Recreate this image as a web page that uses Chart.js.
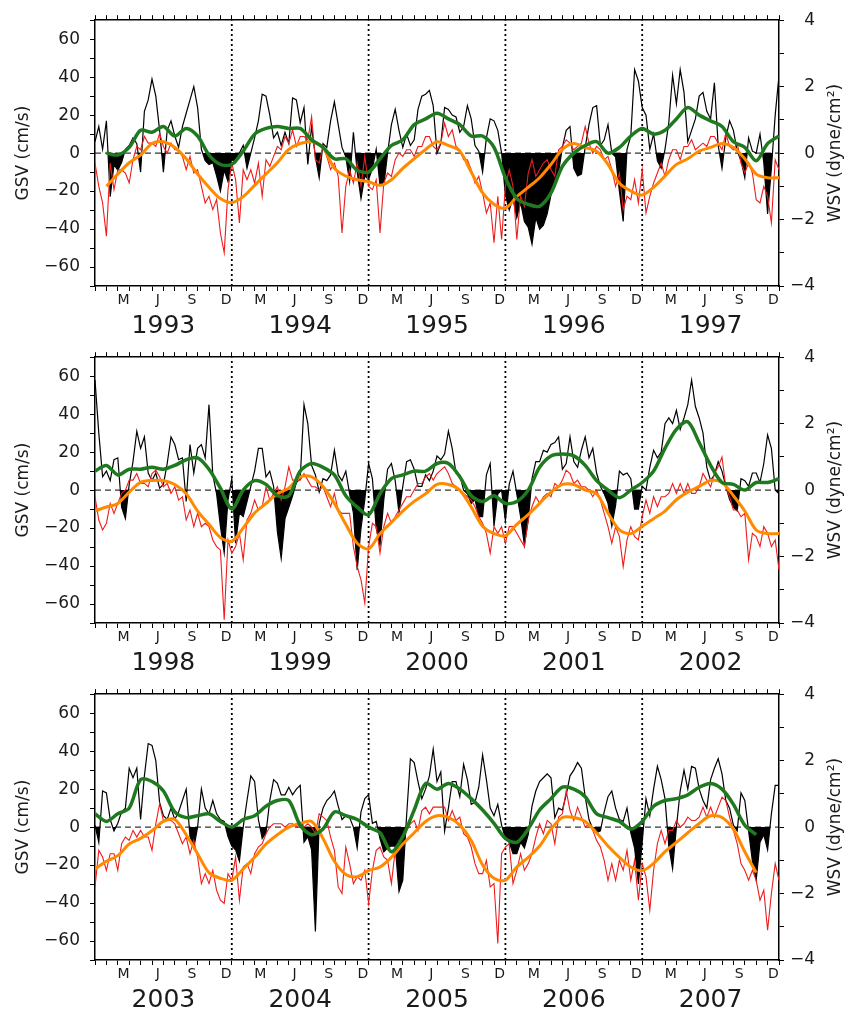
<!DOCTYPE html>
<html><head><meta charset="utf-8">
<script src="https://cdn.jsdelivr.net/npm/chart.js@4.4.1/dist/chart.umd.min.js"></script>
<style>
html,body{margin:0;padding:0;background:#fff;}
#wrap{position:relative;width:857px;height:1015px;}
canvas{position:absolute;left:0;}
</style></head><body>
<div id="wrap">
<canvas id="p1" width="857" height="337" style="top:0px"></canvas>
<canvas id="p2" width="857" height="337" style="top:337px"></canvas>
<canvas id="p3" width="857" height="337" style="top:674px"></canvas>
</div>
<script>
// ---------- tick labels ----------
const MONTH_LETTERS = ['M','J','S','D'];
const MONTH_LABEL_OFFSETS = [2.5,5.5,8.5,11.5];
const YEAR_BOUNDARIES = [12,24,36,48];
const years1 = ['1993','1994','1995','1996','1997'];
const years2 = ['1998','1999','2000','2001','2002'];
const years3 = ['2003','2004','2005','2006','2007'];

// ---------- GSV (cm/s), ~10-day values, 1993-1997 ----------
const gsv1 = [
 6,14,2,17,-23,-6,-9,-5,2,4,8,5,-10,22,28,39,30,12,-10,12,17,9,3,14,21,28,35,24,2,-4,-6,-5,-12,-20,-9,-15,
 -3,-5,0,4,-8,0,8,17,31,30,20,8,11,4,11,5,29,28,16,24,-6,14,-2,-13,5,3,17,27,15,3,-2,-15,11,-10,-24,-12,
 -14,-8,2,-17,-17,0,15,23,12,3,10,4,7,23,30,31,33,25,0,5,24,23,20,19,11,14,25,18,4,1,-10,8,18,17,12,0,
 -22,-30,-24,-34,-26,-36,-39,-48,-34,-40,-38,-32,-22,-14,-10,3,12,14,-8,-12,-11,3,15,24,25,4,7,15,0,-2,-20,-36,2,9,44,38,
 24,20,2,10,-4,-8,2,16,41,26,44,32,6,12,18,30,32,22,18,37,4,-8,8,17,12,1,-4,-13,8,1,0,10,-5,-32,-8,20,41];
// ---------- WSV (dyne/cm2) ----------
const wsv1 = [
 -0.3,-1.0,-1.5,-2.5,-0.3,-1.1,-0.5,-0.5,-0.6,-0.9,-0.2,0.2,0.1,0.5,0.3,0.3,0.2,0.6,0.2,0,0.3,0.1,0.1,-0.1,-0.5,-0.1,-0.6,-0.5,-1.0,-1.5,-1.3,-1.7,-1.4,-2.4,-3.0,-1.1,
 -0.3,-0.8,-2.1,-0.5,-0.8,-0.5,-0.9,-0.3,-1.3,-0.2,-0.4,-0.1,0.2,0.1,0.5,0.3,0.7,0.2,0.5,0.5,0.4,1.1,-0.2,-0.3,0.2,-0.1,-0.5,-0.3,-0.7,-2.4,-1.0,-0.5,-0.9,-0.3,-1.0,-0.1,
 -1.0,-1.1,-0.8,-2.4,-0.9,-0.6,-0.7,-0.2,0,-0.1,0.1,0.1,-0.1,0.2,0.2,0.5,0.5,0.2,0.1,0.3,0.9,0.5,0.7,0.2,0.1,-0.2,-0.2,-0.5,-0.9,-0.7,-1.2,-1.8,-1.5,-2.7,-1.3,-2.6,
 -1.0,-0.5,-1.0,-2.6,-1.3,-1.6,-0.6,-0.2,-0.7,-0.5,-0.3,-0.2,-0.5,-0.7,0.1,0.2,0.4,0.3,0.1,0.2,0.3,0.8,0.3,0,0.2,0.1,-0.2,-0.1,-0.5,-1.0,-0.6,-1.7,-1.3,-1.4,-0.8,-1.5,
 -0.5,-1.8,-1.3,-0.9,-0.6,-0.3,-0.7,-0.2,0.1,0.1,-0.2,0.2,0.2,0.4,0.1,0.2,0.3,0.2,0.5,0.5,0.3,0.1,0.6,0.2,0.1,0.3,-0.3,-0.6,-0.3,-0.6,-1.4,-1.5,-1.0,-1.3,-2.1,-0.2,-0.5];
// ---------- smoothed, monthly ----------
const gsvSmooth1 = [null,0,-1,3,12,11,14,9,13,9,-1,-6,-6,1,10,13,14,13,13,7,3,-3,-3,-9,-10,-3,4,7,15,18,21,18,15,9,9,3,-13,-24,-27,-28,-21,-7,0,4,6,0,3,9,13,10,12,18,24,20,17,14,6,3,-4,5,9];
const wsvSmooth1 = [null,-1.0,-0.63,-0.29,-0.06,0.29,0.34,0.17,-0.17,-0.63,-1.03,-1.37,-1.49,-1.31,-0.97,-0.63,-0.29,0.11,0.29,0.34,0.17,-0.46,-0.69,-0.8,-0.86,-0.97,-0.8,-0.46,-0.17,0.11,0.34,0.23,0.06,-0.57,-1.2,-1.54,-1.66,-1.31,-1.03,-0.74,-0.34,0.11,0.29,0.17,0.06,-0.34,-0.91,-1.14,-1.26,-1.03,-0.69,-0.34,-0.17,0.06,0.17,0.29,0.17,-0.17,-0.63,-0.74,-0.74];

// ---------- 1998-2002 ----------
const gsv2 = [
 58,30,7,10,5,16,17,-9,-15,3,15,31,22,28,9,5,9,1,3,14,28,24,16,17,-6,24,9,22,24,17,45,8,-2,-19,-33,-5,
 6,-28,-12,-14,-6,2,10,22,22,7,10,2,-22,-36,-15,-9,-3,4,6,45,35,13,8,-1,6,5,8,21,8,5,10,-2,-12,-42,-20,-5,
 14,6,-20,-29,-5,11,14,5,-12,2,15,16,11,2,2,8,5,10,18,16,19,31,22,9,8,0,-2,-7,-5,-14,-14,8,14,-19,-2,0,
 -16,3,10,-2,-14,-29,-16,6,15,15,21,20,24,25,28,11,14,28,15,12,21,28,17,22,9,2,-2,-7,-19,-8,10,8,9,6,-10,-10,
 2,0,12,21,17,20,35,38,35,42,32,38,45,58,44,38,30,12,5,8,15,10,2,-5,-9,-11,6,5,2,9,9,4,14,29,22,0,-2];
const wsv2 = [
 -0.2,-0.9,-1.2,-1.0,-0.4,-0.7,-0.4,-0.1,0,0.3,0.3,0.5,0.2,0.2,0.1,0.5,0.6,0.4,0.1,0.2,-0.1,0.1,-0.3,-0.2,-0.9,-0.6,-1.1,-0.7,-1.1,-1.0,-1.1,-1.5,-1.7,-1.8,-3.9,-1.5,
 -1.9,-1.7,-1.3,-2.1,-0.9,-0.7,-0.3,-0.6,-0.5,0.1,-0.3,-0.1,0.1,-0.3,0.1,0.7,0.3,0.3,0.3,0.5,0.3,0.1,0.1,0,0.1,-0.2,-0.5,-0.1,-0.6,-0.7,-0.7,-0.7,-1.7,-2.3,-2.7,-3.4,
 -1.7,-1.0,-1.1,-1.9,-1.1,-0.7,-1.0,-0.8,-0.6,-0.4,-0.2,-0.2,0,0.2,0.2,0.4,0.5,0.3,0.5,0.6,0.7,0.5,0.2,0.1,0,-0.1,-0.2,-0.3,-0.5,-0.8,-1.0,-1.3,-1.9,-1.1,-1.3,-1.1,
 -1.6,-1.1,-1.1,-1.3,-1.5,-1.7,-0.9,-0.5,-0.2,-0.4,-0.2,-0.1,-0.2,0.2,0.1,0.3,0.6,0.5,0.2,0.3,0.1,0.1,0,-0.2,0,-0.3,-0.7,-1.1,-1.6,-1.1,-1.4,-2.3,-1.5,-1.1,-1.4,-1.5,
 -0.8,-0.3,-0.7,-0.2,-0.5,-0.2,-0.2,-0.1,0.2,-0.1,0.2,-0.1,0.2,-0.1,-0.1,0.1,0.5,0.3,0.1,0.5,0.7,1.0,0.1,-0.2,-0.6,-0.6,-0.8,-0.7,-2.1,-1.3,-1.4,-1.7,-1.1,-1.3,-1.7,-1.5,-2.4];
const gsvSmooth2 = [10,13,8,11,11,12,11,13,16,17,11,1,-10,0,5,3,-3,-3,10,14,12,8,-3,-9,-13,-2,6,8,10,10,14,14,7,-3,-6,-3,-7,-6,0,12,18,19,18,13,5,0,-4,0,4,10,22,32,36,25,13,4,3,0,4,4,6];
const wsvSmooth2 = [-0.63,-0.51,-0.4,-0.06,0.23,0.29,0.29,0.17,-0.11,-0.63,-1.03,-1.43,-1.54,-1.14,-0.69,-0.4,-0.11,0.06,0.4,0.4,0.11,-0.4,-1.03,-1.6,-1.77,-1.31,-0.97,-0.63,-0.34,-0.11,0.17,0.17,0,-0.51,-1.09,-1.31,-1.37,-1.03,-0.74,-0.4,-0.06,0.17,0.17,0,-0.11,-0.69,-1.2,-1.31,-1.09,-0.86,-0.63,-0.29,-0.06,0.11,0.29,0.23,-0.17,-0.63,-1.2,-1.31,-1.31];

// ---------- 2003-2007 ----------
const gsv3 = [
 1,-8,19,18,4,-2,2,8,10,31,26,31,4,27,44,43,35,13,6,4,10,4,8,14,20,-5,-11,0,20,10,7,14,7,4,3,-5,
 -10,-12,-18,0,14,27,24,4,-6,-3,14,25,23,17,17,21,17,20,22,-8,-5,-12,-55,2,10,14,16,19,11,4,6,5,0,-11,8,15,
 17,2,3,-6,-13,-11,-10,-10,-34,-28,6,36,34,24,15,20,27,41,24,29,-2,10,24,24,16,33,25,12,13,21,38,25,10,6,12,1,
 -6,-8,-14,-14,-8,-11,-4,11,19,24,26,28,26,5,10,9,17,27,30,34,31,16,4,-1,-3,-2,8,16,19,10,4,3,10,-3,-11,-30,
 -8,15,6,20,32,25,15,-10,-22,0,19,30,20,32,31,20,14,10,25,31,36,28,14,10,1,-2,18,14,-2,-18,-28,-8,-4,-12,7,22,22];
const wsv3 = [
 -1.8,-0.7,-0.9,-1.3,-0.8,-0.8,-1.3,-0.5,-0.3,-0.4,-0.1,-0.3,-0.1,-0.3,-0.3,-0.7,0.1,0.7,0.2,0.2,0.2,0.1,-0.2,-0.5,-0.3,-0.8,-0.4,-0.9,-1.7,-1.4,-1.7,-1.3,-1.9,-2.2,-2.3,-1.4,
 -1.6,-0.9,-2.2,-1.2,-1.1,-1.4,-0.8,-0.6,-0.5,-0.2,0,0.1,0.1,0.1,0,0.1,0.1,0,0.1,0,0.1,0,-0.2,0.4,0.3,0.2,-0.3,-0.7,-1.8,-2.0,-0.6,-1.1,-1.7,-1.5,-1.6,-1.3,
 -2.3,-1.3,-0.7,-0.6,-0.9,-1.0,-1.7,-0.7,-0.5,-0.3,-0.1,0.1,0.2,-0.1,0.5,0.6,0.4,0.6,0.6,0.6,0.6,0.2,0.5,0.2,0.3,-0.2,-0.3,-0.6,-1.1,-1.4,-1.4,-1.0,-1.8,-1.7,-3.5,-0.8,
 -0.6,-0.5,-1.7,-1.3,-0.8,-1.3,-1.1,-0.8,-0.3,0.1,-0.2,0.2,0.1,-0.5,0.3,0.4,1.1,0.5,0.2,0.6,0.3,0,0.1,-0.1,-0.4,-0.6,-1.0,-1.6,-1.1,-1.6,-1.0,-1.3,-0.7,-1.6,-1.0,-2.2,
 -1.1,-1.5,-2.5,-1.3,-0.5,-0.1,-0.5,-0.1,-0.1,0.2,0,0.1,0.3,0.2,0.2,0.3,0.6,0.3,0.6,0.3,0.6,0.9,0.8,0.3,-0.1,-0.5,-1.1,-1.3,-1.6,-1.3,-1.6,-2.2,-1.9,-3.1,-2.0,-1.1,-1.6];
const gsvSmooth3 = [7,3,7,10,25,24,19,8,5,6,7,3,0,4,6,11,14,14,1,-4,-1,8,6,4,0,-3,-13,-5,9,23,20,23,20,15,9,2,-6,-8,-1,9,15,21,20,16,7,5,3,-1,3,11,14,15,17,21,23,20,12,1,-4,null,null];
const wsvSmooth3 = [-1.26,-1.03,-0.86,-0.51,-0.34,-0.11,0.17,0.23,-0.23,-0.8,-1.37,-1.54,-1.6,-1.26,-0.91,-0.51,-0.23,0,0.11,0.17,-0.34,-1.03,-1.43,-1.49,-1.31,-1.2,-0.91,-0.51,-0.17,0.17,0.34,0.29,0.06,-0.4,-1.14,-1.54,-1.6,-1.2,-0.91,-0.57,-0.06,0.29,0.29,0.17,-0.17,-0.57,-0.91,-1.2,-1.31,-1.09,-0.74,-0.46,-0.17,0.11,0.34,0.29,-0.06,-0.74,-1.37,null,null];

// ---------- drawing ----------
const FONT = 'DejaVu Sans';
const TXT = '#1a1a1a';
const GREEN = '#1f7a1f';
const ORANGE = '#ff8a00';
const RED = '#ee1c1c';

function fmt(v){ return v < 0 ? '\u2212' + (-v) : String(v); }
function monthTickValues(){
  const a = [];
  for (let m = 0; m <= 60; m++) a.push(m);
  for (let y = 0; y < 5; y++) MONTH_LABEL_OFFSETS.forEach(o => a.push(y*12 + o));
  return a.sort((p,q) => p - q);
}
function monthLabel(v){
  if (Number.isInteger(v)) return '';
  const k = v % 12;
  const i = MONTH_LABEL_OFFSETS.indexOf(k);
  return i >= 0 ? MONTH_LETTERS[i] : '';
}

const rightTitle = {
  id: 'rightTitle',
  afterDraw(chart){
    const s = chart.scales.y2, ctx = chart.ctx;
    ctx.save();
    ctx.translate(s.right + 21, (s.top + s.bottom) / 2);
    ctx.rotate(-Math.PI / 2);
    ctx.font = '17px "' + FONT + '"';
    ctx.fillStyle = TXT;
    ctx.textAlign = 'center';
    ctx.textBaseline = 'middle';
    ctx.fillText('WSV (dyne/cm\u00B2)', 0, 0);
    ctx.restore();
  }
};

function panel(id, years, gsv, wsv, gsvS, wsvS){
  const yearLines = [];
  YEAR_BOUNDARIES.forEach(b => { yearLines.push({x:b,y:-70},{x:b,y:70},{x:b,y:null}); });
  const yearPos = years.map((_, k) => k*12 + 6);
  new Chart(document.getElementById(id), {
    type: 'line',
    data: { datasets: [
      { data: gsvS.map((v,i)=>({x:i,y:v})), yAxisID:'y', borderColor:GREEN, borderWidth:3.5, tension:0.3, pointRadius:0, fill:false },
      { data: wsvS.map((v,i)=>({x:i,y:v})), yAxisID:'y2', borderColor:ORANGE, borderWidth:3, tension:0.3, pointRadius:0, fill:false },
      { data: wsv.map((v,i)=>({x:i/3,y:v})), yAxisID:'y2', borderColor:RED, borderWidth:1.1, tension:0, pointRadius:0, fill:false },
      { data: gsv.map((v,i)=>({x:i/3,y:v})), yAxisID:'y', borderColor:'#000', borderWidth:1.2, tension:0, pointRadius:0,
        fill:{target:'origin', above:'rgba(0,0,0,0)', below:'#000'} },
      { data: [{x:0,y:0},{x:60,y:0}], yAxisID:'y', borderColor:'#000', borderWidth:1, borderDash:[6,4], pointRadius:0, fill:false },
      { data: yearLines, yAxisID:'y', borderColor:'#000', borderWidth:1.8, borderDash:[2,3], pointRadius:0, fill:false, spanGaps:false }
    ]},
    options: {
      responsive:false, animation:false, devicePixelRatio:1,
      layout:{ padding:{ top:11, left:0, right:42, bottom:0 } },
      plugins:{ legend:{display:false}, tooltip:{enabled:false} },
      scales:{
        x:{ type:'linear', position:'bottom', min:0, max:60, weight:0,
          afterBuildTicks: ax => { ax.ticks = monthTickValues().map(v => ({value:v})); },
          afterFit: ax => { ax.height = 24; },
          ticks:{ autoSkip:false, maxRotation:0, minRotation:0, padding:1, color:TXT,
                  font:{family:FONT, size:14}, callback: v => monthLabel(v) },
          grid:{ drawOnChartArea:false, drawTicks:true, tickLength:5, tickWidth:1,
                 tickColor: c => (c.tick && Number.isInteger(c.tick.value)) ? '#000' : 'rgba(0,0,0,0)' },
          border:{ color:'#000', width:1.5 }
        },
        xYear:{ type:'linear', position:'bottom', min:0, max:60, weight:1,
          afterBuildTicks: ax => { ax.ticks = yearPos.map(v => ({value:v})); },
          afterFit: ax => { ax.height = 27; },
          ticks:{ autoSkip:false, maxRotation:0, minRotation:0, padding:1, color:TXT,
                  font:{family:FONT, size:25}, callback: v => years[yearPos.indexOf(v)] || '' },
          grid:{ display:false, drawTicks:false },
          border:{ display:false }
        },
        xTop:{ type:'linear', position:'top', min:0, max:60,
          afterBuildTicks: ax => { const a=[]; for(let m=0;m<=60;m++) a.push({value:m}); ax.ticks = a; },
          afterFit: ax => { ax.height = 6; },
          ticks:{ display:false, autoSkip:false },
          grid:{ drawOnChartArea:false, drawTicks:true, tickLength:5, tickColor:'#000', tickWidth:1 },
          border:{ color:'#000', width:1.5 }
        },
        y:{ position:'left', min:-70, max:70,
          afterBuildTicks: ax => { const a=[]; for(let v=-70; v<=70; v+=10) a.push({value:v}); ax.ticks = a; },
          afterFit: ax => { ax.width = 95; },
          ticks:{ autoSkip:false, padding:10, color:TXT, font:{family:FONT, size:17},
                  callback: v => (v % 20 === 0) ? fmt(v) : '' },
          grid:{ drawOnChartArea:false, drawTicks:true, tickLength:5, tickColor:'#000', tickWidth:1 },
          border:{ color:'#000', width:1.5 },
          title:{ display:true, text:'GSV (cm/s)', color:TXT, font:{family:FONT, size:17}, padding:{top:13, bottom:0} }
        },
        y2:{ position:'right', min:-4, max:4,
          afterBuildTicks: ax => { const a=[]; for(let v=-4; v<=4; v+=1) a.push({value:v}); ax.ticks = a; },
          afterFit: ax => { ax.width = 36; },
          ticks:{ autoSkip:false, padding:8, crossAlign:'far', color:TXT, font:{family:FONT, size:17},
                  callback: v => (v % 2 === 0) ? fmt(v) : '' },
          grid:{ drawOnChartArea:false, drawTicks:true, tickLength:5, tickColor:'#000', tickWidth:1 },
          border:{ color:'#000', width:1.5 }
        }
      }
    },
    plugins:[rightTitle]
  });
}

panel('p1', years1, gsv1, wsv1, gsvSmooth1, wsvSmooth1);
panel('p2', years2, gsv2, wsv2, gsvSmooth2, wsvSmooth2);
panel('p3', years3, gsv3, wsv3, gsvSmooth3, wsvSmooth3);
</script>
</body></html>
